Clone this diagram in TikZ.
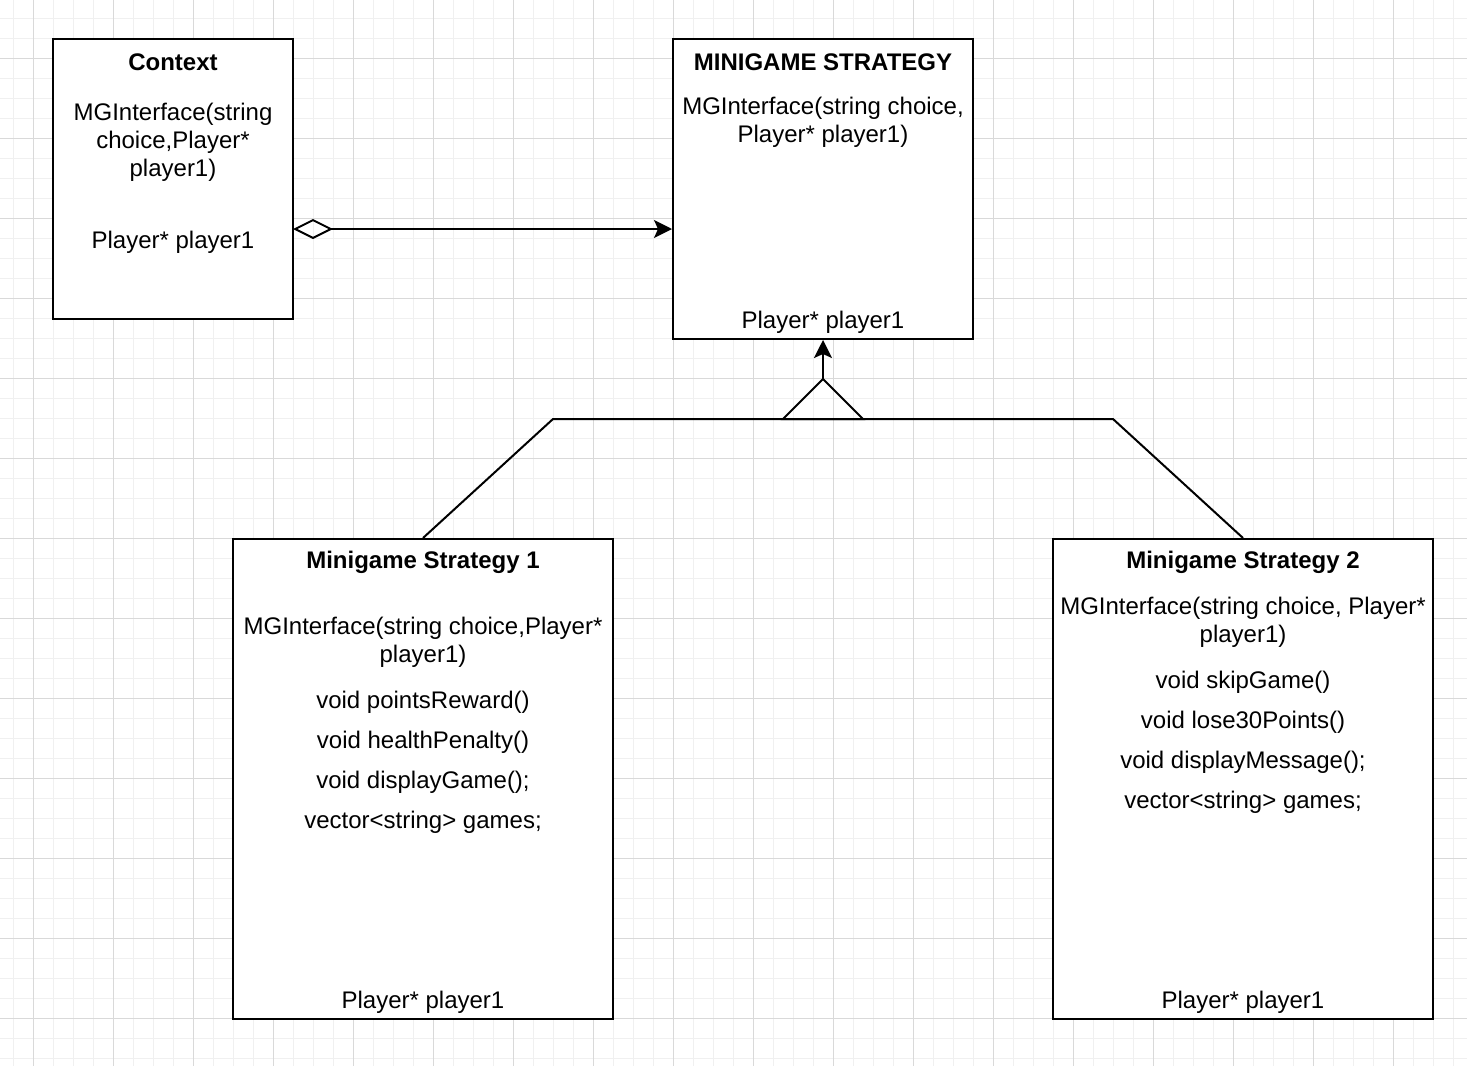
\documentclass[tikz,border=0pt]{standalone}
\usepackage{fontspec}
\setmainfont{Liberation Sans}
\usetikzlibrary{arrows.meta}

\definecolor{gridminor}{HTML}{F0F0F0}
\definecolor{gridmajor}{HTML}{D9D9D9}

\begin{document}
\begin{tikzpicture}[
		x=0.5pt, y=-0.5pt,
		every node/.style={inner sep=0pt, align=center, font=\fontsize{12}{14}\selectfont},
		umlbox/.style={draw, line width=1pt, fill=white},
		title/.style={font=\fontsize{12}{14}\selectfont\bfseries},
		conn/.style={line width=1pt},
		umltip/.tip={Stealth[length=9pt, width=9pt, inset=2pt]}
	]
  \useasboundingbox (0,0) rectangle (1467,1066);
  % grid
  \foreach \gx in {13,33,...,1467} \draw[gridminor, line width=0.5pt] (\gx,0) -- (\gx,1066);
  \foreach \gy in {18,38,...,1066} \draw[gridminor, line width=0.5pt] (0,\gy) -- (1467,\gy);
  \foreach \gx in {33,113,...,1467} \draw[gridmajor, line width=0.5pt] (\gx,0) -- (\gx,1066);
  \foreach \gy in {58,138,...,1066} \draw[gridmajor, line width=0.5pt] (0,\gy) -- (1467,\gy);

  % boxes
  \node (ctx) [umlbox, minimum width=120pt, minimum height=140pt] at (173,179) {};
  \node (mg) [umlbox, minimum width=150pt, minimum height=150pt] at (823,189) {};
  \node (s1) [umlbox, minimum width=190pt, minimum height=240pt] at (423,779) {};
  \node (s2) [umlbox, minimum width=190pt, minimum height=240pt] at (1243,779) {};

  % Context
  \node (ctx_title) [title] at (173,62) {Context};
  \node (ctx_ctor) at (173,142) {MGInterface(string\\choice,Player*\\player1)};
  \node (ctx_attr) at (173,242) {Player* player1};

  % MINIGAME STRATEGY
  \node (mg_title) [title] at (823,62) {MINIGAME STRATEGY};
  \node (mg_ctor) at (823,122) {MGInterface(string choice,\\Player* player1)};
  \node (mg_attr) at (823,322) {Player* player1};

  % Minigame Strategy 1
  \node (s1_title) [title] at (423,562) {Minigame Strategy 1};
  \node (s1_ctor) at (423,642) {MGInterface(string choice,Player*\\player1)};
  \node (s1_m1) at (423,702) {void pointsReward()};
  \node (s1_m2) at (423,742) {void healthPenalty()};
  \node (s1_m3) at (423,782) {void displayGame();};
  \node (s1_m4) at (423,822) {vector<string> games;};
  \node (s1_attr) at (423,1002) {Player* player1};

  % Minigame Strategy 2
  \node (s2_title) [title] at (1243,562) {Minigame Strategy 2};
  \node (s2_ctor) at (1243,622) {MGInterface(string choice, Player*\\player1)};
  \node (s2_m1) at (1243,682) {void skipGame()};
  \node (s2_m2) at (1243,722) {void lose30Points()};
  \node (s2_m3) at (1243,762) {void displayMessage();};
  \node (s2_m4) at (1243,802) {vector<string> games;};
  \node (s2_attr) at (1243,1002) {Player* player1};

  % aggregation
  \coordinate (agg) at (293,229);
  \draw[conn, {Diamond[open, length=20pt, width=10pt]}-{umltip}] (agg) -- (agg -| mg.west);

  % inheritance
  \coordinate (apex) at (823,379);
  \coordinate (tri_l) at (783,419);
  \coordinate (tri_r) at (863,419);
  \draw[conn, -{umltip}] (apex) -- (mg.south);
  \draw[conn] (apex) -- (tri_l) -- (tri_r) -- cycle;
  \draw[conn] (s1.north) -- (553,419) -- (1113,419) -- (s2.north);
\end{tikzpicture}
\end{document}
